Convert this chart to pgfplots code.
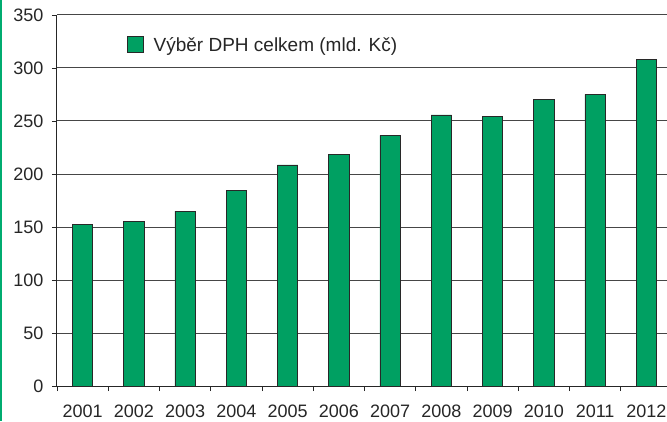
\documentclass[border=0pt]{standalone}
\usepackage{pgfplots}
\pgfplotsset{compat=1.18}
\usepackage{fontspec}
\setmainfont{Liberation Sans}
\definecolor{barGreen}{RGB}{0,160,98}
\definecolor{edgeGray}{RGB}{40,40,40}
\definecolor{gridGray}{RGB}{70,70,70}
\definecolor{sideGreen}{RGB}{0,172,112}
\begin{document}
\begin{tikzpicture}
\path[use as bounding box, clip] (-57pt,-35pt) rectangle (610pt,386pt);
\fill[white] (-57pt,-35pt) rectangle (610pt,386pt);
\begin{axis}[
  at={(0pt,0pt)}, anchor=south west,
  scale only axis, width=615pt, height=371pt,
  xmin=-0.5, xmax=11.5, ymin=0, ymax=350,
  ybar, bar width=20.3pt,
  ytick={0,50,...,350},
  xtick={0,...,11},
  xticklabels={2001,2002,2003,2004,2005,2006,2007,2008,2009,2010,2011,2012},
  minor xtick={-0.5,0.5,...,11.5},
  axis x line*=bottom, axis y line*=left,
  axis line style={draw=black!85, line width=1pt},
  tick align=outside,
  major tick length=5pt, minor tick length=5pt,
  xtick style={draw=none},
  minor x tick style={draw=black!85, line width=0.9pt},
  ytick style={draw=black!85, line width=0.9pt},
  ymajorgrids=true,
  grid style={draw=gridGray, line width=1pt},
  /pgf/number format/assume math mode=true,
  tick label style={font=\fontsize{18}{20}\selectfont, text=black!85},
  xticklabel style={yshift=-10pt},
  yticklabel style={xshift=-5pt},
  legend style={at={(0.1133,0.918)}, anchor=west, draw=none, fill=none,
    inner sep=0pt, outer sep=0pt, column sep=8pt,
    font=\fontsize{19}{21}\selectfont, text=black!85},
  legend image code/.code={\draw[fill=barGreen, draw=edgeGray, line width=1pt] (0pt,-7pt) rectangle (16pt,9pt);},
]
\addplot[ybar, fill=barGreen, draw=edgeGray, line width=0.9pt] coordinates {
  (0,152) (1,155.4) (2,165) (3,184.6) (4,208.5) (5,218)
  (6,236.4) (7,255.7) (8,254) (9,270) (10,275.2) (11,308.2)
};
\addlegendentry{Výběr DPH celkem (mld. Kč)}
\end{axis}
\fill[sideGreen] (-57pt,-35pt) rectangle (-54.5pt,386pt);
\end{tikzpicture}
\end{document}
